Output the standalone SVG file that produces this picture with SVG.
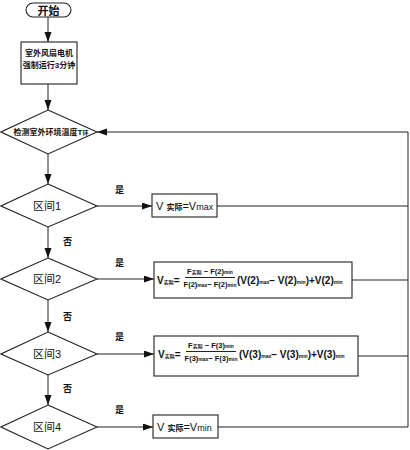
<svg xmlns="http://www.w3.org/2000/svg" width="410" height="450" viewBox="0 0 410 450">
<style>
.s{fill:#fff;stroke:#222;stroke-width:1.1}
.c{fill:none;stroke:#222;stroke-width:1}
text{font-family:"Liberation Sans","Noto Sans CJK SC",sans-serif;fill:#111}
.t{font-size:11px;text-anchor:middle}
.m{font-size:8px;text-anchor:middle;font-weight:bold}
.l{font-size:9px;font-weight:bold}
.f{font-size:10px;font-weight:bold}
.n{font-size:7.5px;font-weight:bold}
.b{font-size:5px}
</style>
<defs>
<marker id="a" markerUnits="userSpaceOnUse" markerWidth="11" markerHeight="8" refX="10" refY="3.5" orient="auto">
<path d="M0,0L10,3.5L0,7z" fill="#111"/>
</marker>
</defs>
<g id="connectors">
<line class="c" x1="48" y1="17" x2="48" y2="42" marker-end="url(#a)"/>
<line class="c" x1="48" y1="84" x2="48" y2="110" marker-end="url(#a)"/>
<line class="c" x1="48" y1="154" x2="48" y2="184" marker-end="url(#a)"/>
<line class="c" x1="48" y1="227" x2="48" y2="258" marker-end="url(#a)"/>
<line class="c" x1="48" y1="300" x2="48" y2="332" marker-end="url(#a)"/>
<line class="c" x1="48" y1="375" x2="48" y2="405" marker-end="url(#a)"/>
<line class="c" x1="97" y1="206" x2="152" y2="206" marker-end="url(#a)"/>
<line class="c" x1="97" y1="279" x2="154" y2="279" marker-end="url(#a)"/>
<line class="c" x1="97" y1="354" x2="154" y2="354" marker-end="url(#a)"/>
<line class="c" x1="97" y1="427" x2="153" y2="427" marker-end="url(#a)"/>
<line class="c" x1="217" y1="206" x2="408" y2="206"/>
<line class="c" x1="352" y1="280" x2="408" y2="280"/>
<line class="c" x1="358" y1="356" x2="408" y2="356"/>
<line class="c" x1="218" y1="427" x2="408" y2="427"/>
<polyline class="c" points="408,427 408,132 97,132" marker-end="url(#a)"/>
<text class="l" x="115" y="193">是</text>
<text class="l" x="115" y="266">是</text>
<text class="l" x="115" y="340">是</text>
<text class="l" x="115" y="413">是</text>
<text class="l" x="63" y="245">否</text>
<text class="l" x="63" y="320">否</text>
<text class="l" x="63" y="392">否</text>
</g>
<g id="start">
<rect class="s" x="26" y="3" width="45" height="14" rx="7"/>
<text class="t" x="48.5" y="14.5" font-weight="bold">开始</text>
</g>
<g id="fan">
<rect class="s" x="21" y="42" width="56" height="42"/>
<text class="m" x="49" y="56">室外风扇电机</text>
<text class="m" x="49" y="68">强制运行3分钟</text>
</g>
<g id="detect">
<polygon class="s" points="48,110 97,132 48,154 1,132"/>
<text x="51" y="135" font-size="8" font-weight="bold" text-anchor="middle">检测室外环境温度T<tspan font-size="6">环</tspan></text>
</g>
<g id="d1">
<polygon class="s" points="48,184 97,206 48,227 1,206"/>
<text class="t" x="47" y="210">区间1</text>
</g>
<g id="d2">
<polygon class="s" points="48,258 97,279 48,300 1,279"/>
<text class="t" x="47" y="283">区间2</text>
</g>
<g id="d3">
<polygon class="s" points="48,332 97,354 48,375 1,354"/>
<text class="t" x="47" y="358">区间3</text>
</g>
<g id="d4">
<polygon class="s" points="48,405 97,427 48,449 1,427"/>
<text class="t" x="47" y="431">区间4</text>
</g>
<g id="vmax">
<rect class="s" x="152" y="194" width="65" height="23"/>
<text x="156" y="210" font-size="11">V <tspan font-size="8" font-weight="bold">实际</tspan>=V<tspan font-size="9">max</tspan></text>
</g>
<g id="f2">
<rect class="s" x="154" y="262" width="198" height="36"/>
<text class="f" x="157" y="284">V<tspan class="b">实际</tspan>=</text>
<text class="n" x="210" y="274" text-anchor="middle">F<tspan class="b">实际</tspan> − F(2)<tspan class="b">min</tspan></text>
<line class="c" x1="185" y1="277.5" x2="235" y2="277.5"/>
<text class="n" x="210" y="287" text-anchor="middle">F(2)<tspan class="b">max</tspan>− F(2)<tspan class="b">min</tspan></text>
<text class="f" x="237" y="284">(V(2)<tspan class="b">max</tspan>− V(2)<tspan class="b">min</tspan>)+V(2)<tspan class="b">min</tspan></text>
</g>
<g id="f3">
<rect class="s" x="154" y="336" width="204" height="40"/>
<text class="f" x="158" y="358">V<tspan class="b">实际</tspan>=</text>
<text class="n" x="211" y="348" text-anchor="middle">F<tspan class="b">实际</tspan> − F(3)<tspan class="b">min</tspan></text>
<line class="c" x1="186" y1="351.5" x2="236" y2="351.5"/>
<text class="n" x="211" y="361" text-anchor="middle">F(3)<tspan class="b">max</tspan>− F(3)<tspan class="b">min</tspan></text>
<text class="f" x="239" y="358">(V(3)<tspan class="b">max</tspan>− V(3)<tspan class="b">min</tspan>)+V(3)<tspan class="b">min</tspan></text>
</g>
<g id="vmin">
<rect class="s" x="153" y="415" width="65" height="23"/>
<text x="157" y="431" font-size="11">V <tspan font-size="8" font-weight="bold">实际</tspan>=V<tspan font-size="9">min</tspan></text>
</g>
</svg>
